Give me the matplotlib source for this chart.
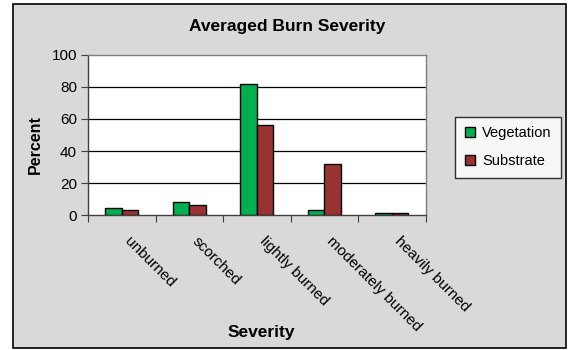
import matplotlib
matplotlib.use("Agg")
import matplotlib.pyplot as plt
from matplotlib.patches import Rectangle
from matplotlib.lines import Line2D
from matplotlib.transforms import offset_copy
import numpy as np

plt.rcParams['font.family'] = ['Liberation Sans', 'DejaVu Sans']

categories = ["unburned", "scorched", "lightly burned", "moderately burned", "heavily burned"]
vegetation = [4.7, 8.2, 81.5, 3.4, 1.7]
substrate = [3.5, 6.4, 56.0, 31.7, 1.7]
yticks = [0, 20, 40, 60, 80, 100]

veg_color = '#00B050'
sub_color = '#993333'
bg = '#D9D9D9'

fig = plt.figure(figsize=(5.7, 3.5), dpi=100)
fig.patch.set_facecolor('white')
fig.patches.append(Rectangle((13/570, 2/350), (566-13)/570, (344)/350,
                             transform=fig.transFigure, facecolor=bg,
                             edgecolor='black', linewidth=1.2, zorder=-10))

ax = fig.add_axes([88/570, 1-215.3/350, (425.7-88)/570, (215.3-54.7)/350])
ax.set_facecolor('white')
x = np.arange(len(categories))
w = 0.245
ax.bar(x - w/2, vegetation, width=w, color=veg_color, edgecolor='black', linewidth=1, zorder=3)
ax.bar(x + w/2, substrate, width=w, color=sub_color, edgecolor='black', linewidth=1, zorder=3)

ax.set_xlim(-0.5, len(categories) - 0.5)
ax.set_ylim(0, 100)
ax.set_yticks(yticks)
ax.set_yticklabels([str(v) for v in yticks], fontsize=11)
for v in yticks[1:-1]:
    ax.axhline(v, color='black', linewidth=0.9, zorder=1)

ax.set_xticks(np.arange(-0.5, len(categories), 1.0))
ax.set_xticklabels([])
ax.tick_params(axis='x', which='major', length=5, direction='out', color='#404040')
ax.tick_params(axis='y', length=5, direction='out', color='#404040', pad=3)

label_tr = offset_copy(ax.get_xaxis_transform(), fig=fig, x=10, y=-19, units='dots')
for xi, lab in zip(x, categories):
    ax.text(xi, 0, lab, transform=label_tr, rotation=-45, ha='left', va='top',
            rotation_mode='anchor', fontsize=11, clip_on=False)

for s in ['top', 'right']:
    ax.spines[s].set_color('#808080')
    ax.spines[s].set_linewidth(1)
for s in ['left', 'bottom']:
    ax.spines[s].set_color('#404040')
    ax.spines[s].set_linewidth(1)

fig.text(287/570, 1-27/350, "Averaged Burn Severity", ha='center', va='center',
         fontsize=12.5, fontweight='bold')
fig.text(35/570, 1-145/350, "Percent", ha='center', va='center', rotation=90,
         fontsize=11.5, fontweight='bold')
fig.text(261/570, 1-332/350, "Severity", ha='center', va='center',
         fontsize=12.5, fontweight='bold')

handles = [Line2D([], [], linestyle='none', marker='s', markersize=6.5,
                  markerfacecolor=veg_color, markeredgecolor='black', markeredgewidth=1),
           Line2D([], [], linestyle='none', marker='s', markersize=6.5,
                  markerfacecolor=sub_color, markeredgecolor='black', markeredgewidth=1)]
leg = fig.legend(handles, ["Vegetation", "Substrate"], loc='upper left',
                 bbox_to_anchor=(455/570, 1-117/350), bbox_transform=fig.transFigure,
                 fontsize=10.5, frameon=True, fancybox=False, edgecolor='black',
                 handlelength=0.8, handletextpad=0.4, labelspacing=0.95,
                 borderpad=0.65, borderaxespad=0)
leg.get_frame().set_linewidth(1)
leg.get_frame().set_facecolor('white')

fig.savefig("out.png", dpi=100, facecolor=fig.get_facecolor())
